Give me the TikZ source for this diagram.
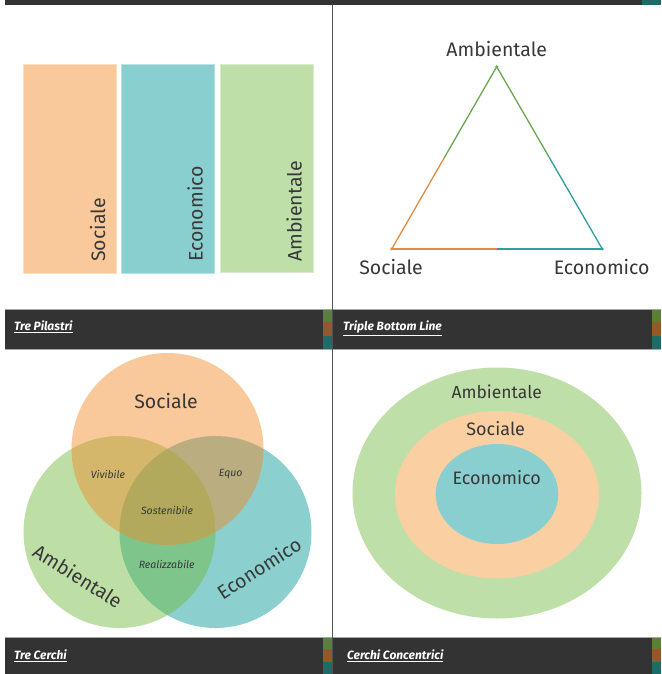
\documentclass[tikz,border=0pt]{standalone}
\usepackage{fontspec}
\setmainfont{Fira Sans}
\usetikzlibrary{shapes.geometric,calc}
\definecolor{barbg}{HTML}{333333}
\definecolor{sqgreen}{HTML}{5B7F3A}
\definecolor{sqbrown}{HTML}{94582A}
\definecolor{sqteal}{HTML}{1E6B68}
\definecolor{pOrange}{HTML}{F9C99C}
\definecolor{pTeal}{HTML}{8ACFCF}
\definecolor{pGreen}{HTML}{BEE0A8}
\definecolor{cOrange}{HTML}{FAD0A2}
\definecolor{vOrange}{HTML}{F28823}
\definecolor{vGreen}{HTML}{6DB93B}
\definecolor{vTeal}{HTML}{009595}
\definecolor{tOrange}{HTML}{E08C45}
\definecolor{tGreen}{HTML}{6AA84F}
\definecolor{tTeal}{HTML}{2E9E9E}
\definecolor{lblgray}{HTML}{383838}
\begin{document}
\begin{tikzpicture}[x=1pt,y=-1pt,
  lbl/.style={text=lblgray, font=\fontsize{19.5}{22}\selectfont, inner sep=0pt},
  small/.style={text=lblgray, font=\fontsize{10.5}{12}\itshape\selectfont, inner sep=0pt},
  barlbl/.style={text=white, font=\fontsize{12}{14}\bfseries\itshape\selectfont, inner sep=0pt},
  pillar/.style={rectangle, inner sep=0pt, minimum width=93pt, minimum height=208.5pt, line width=0.8pt},
  vcirc/.style={circle, inner sep=0pt, minimum size=192pt, fill opacity=0.45},
  conc/.style={ellipse, inner sep=0pt},
  tside/.style={line width=1.3pt},
  tdot/.style={circle, inner sep=0pt, minimum size=3.2pt}]
\useasboundingbox (0,0) rectangle (661,674);
\fill[white] (0,0) rectangle (661,674);

% top bar
\fill[barbg] (5,0) rectangle (642,5);
\fill[sqteal] (642,0) rectangle (661,5);

% divider
\draw[line width=1pt, color=barbg!85] (332.5,5) -- (332.5,674);

% ---------- Tre Pilastri ----------
\node[pillar, fill=pOrange, draw=pOrange!60!white] (p1) at (70.3,168.8) {};
\node[pillar, fill=pTeal, draw=pTeal!60!white] (p2) at (168.3,168.8) {};
\node[pillar, fill=pGreen, draw=pGreen!60!white] (p3) at (266.6,168.5) {};
\node[lbl, rotate=90, anchor=base west] (ps) at (105,262) {Sociale};
\node[lbl, rotate=90, anchor=base west] (pe) at (202.7,262) {Economico};
\node[lbl, rotate=90, anchor=base west] (pa) at (301.7,262) {Ambientale};

% ---------- Triple Bottom Line ----------
\coordinate (tA) at (496.7,66.7);
\coordinate (tS) at (391.7,249);
\coordinate (tE) at (602.3,249);
\coordinate (mSA) at ($(tS)!0.5!(tA)$);
\coordinate (mAE) at ($(tA)!0.5!(tE)$);
\coordinate (mSE) at ($(tS)!0.5!(tE)$);
\draw[tside, tOrange] (tS) -- (mSA);
\draw[tside, tGreen] (mSA) -- (tA);
\draw[tside, tGreen] (tA) -- (mAE);
\draw[tside, tTeal] (mAE) -- (tE);
\draw[tside, tOrange] (tS) -- (mSE);
\draw[tside, tTeal] (mSE) -- (tE);
\node[tdot, fill=tGreen] (dA) at (tA) {};
\node[tdot, fill=tOrange] (dS) at (tS) {};
\node[tdot, fill=tTeal] (dE) at (tE) {};
\node[lbl] (ta) at (496.7,49) {Ambientale};
\node[lbl] (ts) at (391,267) {Sociale};
\node[lbl] (te) at (601.7,267) {Economico};

% ---------- Tre Cerchi ----------
\node[vcirc, fill=vTeal] (cT) at (215.5,532) {};
\node[vcirc, fill=vGreen] (cG) at (119.5,532) {};
\node[vcirc, fill=vOrange] (cO) at (167.5,449) {};
\node[lbl] (vs) at (166,401) {Sociale};
\node[lbl, rotate=-32] (va) at (78,576) {Ambientale};
\node[lbl, rotate=33] (ve) at (259,568) {Economico};
\node[small] (vv) at (108,474) {Vivibile};
\node[small] (vq) at (230.7,474) {Equo};
\node[small] (vso) at (167,510) {Sostenibile};
\node[small] (vr) at (166.7,564) {Realizzabile};

% ---------- Cerchi Concentrici ----------
\node[conc, fill=pGreen, minimum width=289pt, minimum height=251pt] (eG) at (497,493) {};
\node[conc, fill=cOrange, minimum width=204pt, minimum height=167.4pt] (eO) at (497,494.7) {};
\node[conc, fill=pTeal, minimum width=122.6pt, minimum height=100pt] (eT) at (497,494) {};
\node[lbl, font=\fontsize{17.5}{20}\selectfont] (ca) at (496.7,391.5) {Ambientale};
\node[lbl, font=\fontsize{18}{20}\selectfont] (cs) at (495.7,428.3) {Sociale};
\node[lbl, font=\fontsize{18}{20}\selectfont] (ce) at (496.7,477.3) {Economico};

% ---------- bars ----------
\fill[barbg] (5,309) rectangle (323,349);
\fill[sqgreen] (323,309) rectangle (332,322.3);
\fill[sqbrown] (323,322.3) rectangle (332,335.7);
\fill[sqteal] (323,335.7) rectangle (332,349);
\fill[barbg] (333,309) rectangle (652,349);
\fill[sqgreen] (652,309) rectangle (661,322.3);
\fill[sqbrown] (652,322.3) rectangle (661,335.7);
\fill[sqteal] (652,335.7) rectangle (661,349);
\fill[barbg] (5,637) rectangle (323,674);
\fill[sqgreen] (323,637) rectangle (332,649.3);
\fill[sqbrown] (323,649.3) rectangle (332,661.7);
\fill[sqteal] (323,661.7) rectangle (332,674);
\fill[barbg] (333,637) rectangle (652,674);
\fill[sqgreen] (652,637) rectangle (661,649.3);
\fill[sqbrown] (652,649.3) rectangle (661,661.7);
\fill[sqteal] (652,661.7) rectangle (661,674);
\draw[gray!70, line width=0.6pt] (5,309) -- (332,309) (333,309) -- (661,309);
\draw[gray!70, line width=0.6pt] (5,349) -- (332,349) (333,349) -- (661,349);
\draw[gray!70, line width=0.6pt] (5,637) -- (332,637) (333,637) -- (661,637);

\node[barlbl, anchor=base west] (b1) at (14,330.7) {\underline{Tre Pilastri}};
\node[barlbl, anchor=base west] (b2) at (343,330.7) {\underline{Triple Bottom Line}};
\node[barlbl, anchor=base west] (b3) at (14,659.5) {\underline{Tre Cerchi}};
\node[barlbl, anchor=base west] (b4) at (347,659.5) {\underline{Cerchi Concentrici}};
\end{tikzpicture}
\end{document}
